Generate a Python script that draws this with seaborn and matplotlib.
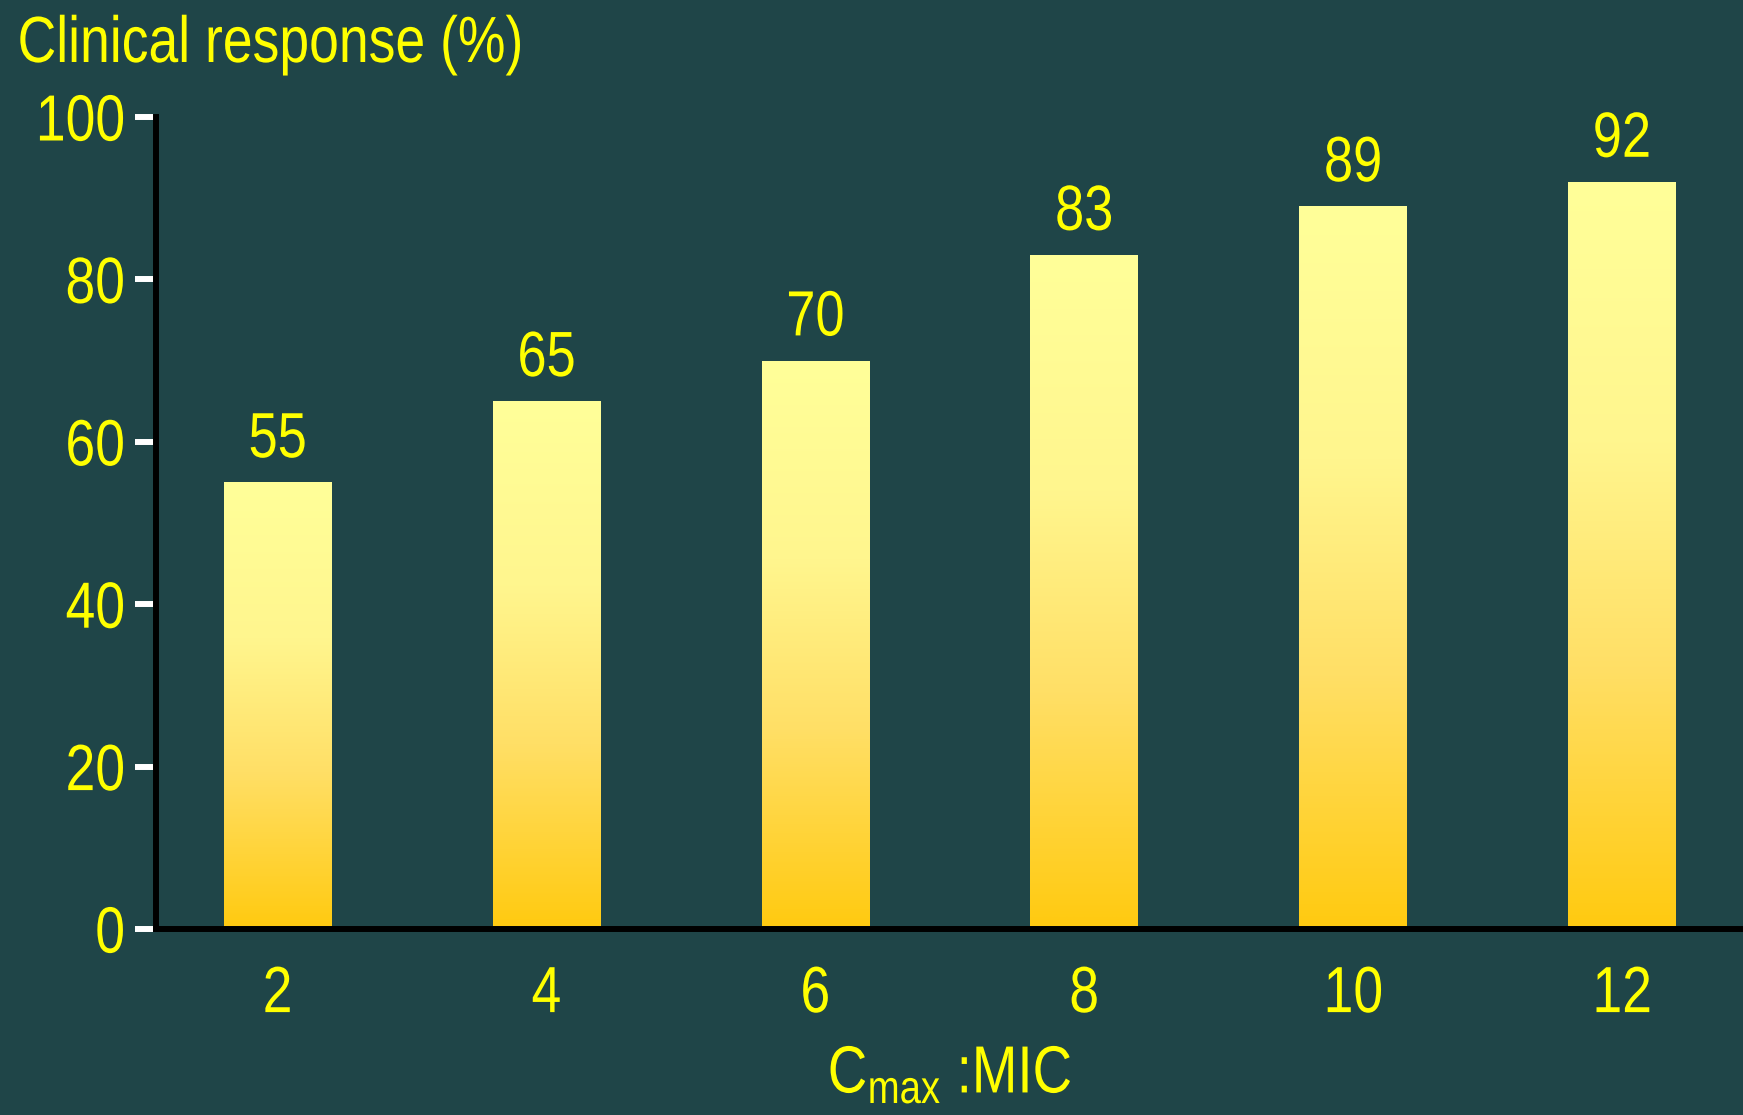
import numpy as np
import pandas as pd
import matplotlib
matplotlib.use("Agg")
import matplotlib.pyplot as plt
from matplotlib import font_manager
from matplotlib.colors import LinearSegmentedColormap
from matplotlib.patheffects import AbstractPathEffect
from matplotlib.transforms import Affine2D
import seaborn as sns

# Clinical response by Cmax:MIC ratio
ratios = ["2", "4", "6", "8", "10", "12"]
response = [55, 65, 70, 83, 89, 92]
y_ticks = [0, 20, 40, 60, 80, 100]

BG = "#1f4548"
YELLOW = "#ffff00"

sns.set_theme(style="white")

# Arial Narrow look: use the narrow Liberation face if present,
# otherwise squeeze the regular one horizontally
names = {f.name for f in font_manager.fontManager.ttflist}
if "Liberation Sans Narrow" in names:
    family, SQUEEZE = "Liberation Sans Narrow", 1.0
else:
    family, SQUEEZE = "Liberation Sans", 0.82
plt.rcParams["font.family"] = [family, "DejaVu Sans"]
plt.rcParams["mathtext.fontset"] = "custom"
plt.rcParams["mathtext.rm"] = family
plt.rcParams["mathtext.it"] = family


class Squeeze(AbstractPathEffect):
    """Draw text compressed horizontally about its left, centre or right edge."""

    def __init__(self, sx, anchor="center"):
        super().__init__()
        self.sx = sx
        self.anchor = anchor

    def draw_path(self, renderer, gc, tpath, affine, rgbFace=None):
        ext = tpath.transformed(affine).get_extents()
        if self.anchor == "left":
            x0 = ext.x0
        elif self.anchor == "right":
            x0 = ext.x1
        else:
            x0 = 0.5 * (ext.x0 + ext.x1)
        squeeze = Affine2D().translate(-x0, 0).scale(self.sx, 1).translate(x0, 0)
        renderer.draw_path(gc, tpath, affine + squeeze, rgbFace)


def squeezed(anchor):
    return [Squeeze(SQUEEZE, anchor)] if SQUEEZE != 1.0 else []


df = pd.DataFrame({"ratio": ratios, "response": response})

fig = plt.figure(figsize=(17.43, 11.15), dpi=100, facecolor=BG)
ax = fig.add_axes([156 / 1743, 1 - 929 / 1115, 1 - 156 / 1743, (929 - 117) / 1115])
ax.set_facecolor(BG)

sns.barplot(data=df, x="ratio", y="response", order=ratios, width=0.4,
            color="#ffe066", edgecolor="none", linewidth=0, ax=ax)

# vertical gradient fill inside each bar
grad_cmap = LinearSegmentedColormap.from_list(
    "gold", [(0.0, "#ffca10"), (0.35, "#ffdf66"), (0.65, "#fff68e"), (1.0, "#ffff99")])
grad = np.linspace(0, 1, 256).reshape(-1, 1)
for patch, val in zip(ax.patches, response):
    x0, y0 = patch.get_x(), patch.get_y()
    w, h = patch.get_width(), patch.get_height()
    patch.set_facecolor("none")
    im = ax.imshow(grad, cmap=grad_cmap, origin="lower", aspect="auto",
                   extent=[x0, x0 + w, y0, y0 + h], zorder=patch.get_zorder(),
                   interpolation="bicubic")
    im.set_clip_path(patch)
    ax.text(x0 + w / 2, y0 + h + 1.5, f"{val}", ha="center", va="bottom",
            color=YELLOW, fontsize=46, path_effects=squeezed("center"))

ax.set_xlim(-0.452, 5.45)
ax.set_ylim(0, 100)
ax.set_yticks(y_ticks)
ax.set_yticklabels([str(t) for t in y_ticks])

for side in ["top", "right"]:
    ax.spines[side].set_visible(False)
for side in ["left", "bottom"]:
    ax.spines[side].set_color("black")
    ax.spines[side].set_linewidth(4.3)
    ax.spines[side].set_zorder(5)

ax.tick_params(axis="y", direction="out", length=15, width=4.3, color="white",
               labelcolor=YELLOW, labelsize=47, pad=7, left=True)
ax.tick_params(axis="x", length=0, labelcolor=YELLOW, labelsize=47, pad=26)
for lab in ax.get_yticklabels():
    lab.set_path_effects(squeezed("right"))
for lab in ax.get_xticklabels():
    lab.set_path_effects(squeezed("center"))

ax.set_ylabel("")
ax.set_xlabel(r"C$_{\mathrm{max}}$ :MIC", color=YELLOW, fontsize=48, labelpad=14,
              path_effects=squeezed("center"))
fig.text(17 / 1743, 1 - 62 / 1115, "Clinical response (%)", color=YELLOW,
         fontsize=47, ha="left", va="baseline", path_effects=squeezed("left"))

fig.savefig("out.png", dpi=100, facecolor=BG)
